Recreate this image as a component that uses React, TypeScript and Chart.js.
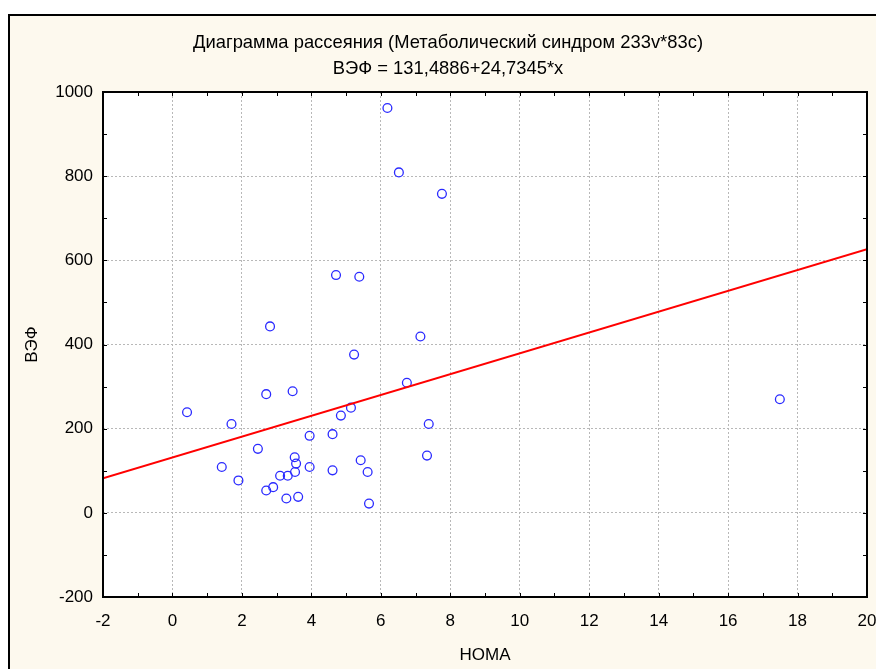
import React, { useEffect, useRef } from 'react';
import { Chart, registerables } from 'chart.js';

Chart.register(...registerables);

// ---- data ----
const HOMA = [0.42, 1.70, 2.70, 3.46, 1.42, 1.90, 2.46, 3.52, 3.56, 3.53, 3.32, 3.10, 2.90, 2.70, 3.28, 3.62, 3.95, 3.95, 4.61, 4.61, 4.85, 5.14, 5.42, 5.62, 5.66, 6.75, 7.38, 7.33, 6.19, 6.52, 7.76, 4.71, 5.38, 2.81, 7.14, 5.23, 17.49];
const VEF = [239, 211, 282, 289, 109, 77, 152, 132, 117, 97, 88, 88, 61, 53, 34, 38, 183, 109, 187, 101, 231, 250, 125, 97, 22, 309, 211, 136, 962, 809, 758, 565, 561, 443, 419, 376, 270];
const FIT_X = [-2, 20];
const FIT_Y = [82.0, 626.2];
const X_TICKS = [-2, 0, 2, 4, 6, 8, 10, 12, 14, 16, 18, 20];
const Y_TICKS = [-200, 0, 200, 400, 600, 800, 1000];
const TITLE_LINES = ['Диаграмма рассеяния (Метаболический синдром 233v*83c)', 'ВЭФ = 131,4886+24,7345*x'];
const X_LABEL = 'HOMA';
const Y_LABEL = 'ВЭФ';

const FONT_FAMILY = "'Liberation Sans', Arial, sans-serif";
const CREAM = '#fdf9ee';

const framePlugin = {
  id: 'framePlugin',
  beforeDraw(chart: any) {
    const { ctx, chartArea: a, width, height } = chart;
    ctx.save();
    ctx.fillStyle = '#ffffff';
    ctx.fillRect(0, 0, width, height);
    ctx.fillStyle = CREAM;
    ctx.fillRect(9, 15, width, height);
    ctx.fillStyle = '#ffffff';
    ctx.fillRect(a.left, a.top, a.right - a.left, a.bottom - a.top);
    ctx.restore();
  },
  afterDraw(chart: any) {
    const { ctx, chartArea: a, scales } = chart;
    ctx.save();
    ctx.strokeStyle = '#000';
    ctx.lineWidth = 2;
    ctx.strokeRect(9, 15, 1000, 1000);
    ctx.strokeRect(a.left, a.top, a.right - a.left, a.bottom - a.top);
    ctx.lineWidth = 1;
    const xs = scales.x;
    const ys = scales.y;
    for (let v = xs.min; v <= xs.max + 1e-9; v += 1) {
      const px = Math.round(xs.getPixelForValue(v)) + 0.5;
      ctx.beginPath();
      ctx.moveTo(px, a.bottom);
      ctx.lineTo(px, a.bottom - 4);
      ctx.moveTo(px, a.top);
      ctx.lineTo(px, a.top + 4);
      ctx.stroke();
    }
    for (let v = ys.min; v <= ys.max + 1e-9; v += 100) {
      const py = Math.round(ys.getPixelForValue(v)) + 0.5;
      ctx.beginPath();
      ctx.moveTo(a.left, py);
      ctx.lineTo(a.left + 4, py);
      ctx.moveTo(a.right, py);
      ctx.lineTo(a.right - 4, py);
      ctx.stroke();
    }
    // titles: slightly condensed, as in the reference
    ctx.fillStyle = '#000';
    ctx.textAlign = 'center';
    ctx.textBaseline = 'middle';
    ctx.font = `19px ${FONT_FAMILY}`;
    const w0 = ctx.measureText(TITLE_LINES[0]).width;
    const sx = w0 > 0 ? Math.min(1, 510 / w0) : 1;
    ctx.save();
    ctx.translate(448, 0);
    ctx.scale(sx, 1);
    ctx.fillText(TITLE_LINES[0], 0, 43);
    ctx.fillText(TITLE_LINES[1], 0, 69);
    ctx.restore();
    ctx.restore();
  },
};

export default function App() {
  const ref = useRef<HTMLCanvasElement | null>(null);

  useEffect(() => {
    if (!ref.current) return;
    const points = HOMA.map((x, i) => ({ x, y: VEF[i] }));
    const fit = FIT_X.map((x, i) => ({ x, y: FIT_Y[i] }));
    const chart = new Chart(ref.current, {
      type: 'scatter',
      data: {
        datasets: [
          {
            type: 'scatter',
            label: 'points',
            data: points,
            pointStyle: 'circle',
            pointRadius: 4.4,
            pointBorderWidth: 1.3,
            borderColor: '#2a2aff',
            backgroundColor: 'rgba(0,0,0,0)',
            order: 2,
          } as any,
          {
            type: 'line',
            label: 'fit',
            data: fit,
            borderColor: '#ff0000',
            borderWidth: 2,
            pointRadius: 0,
            fill: false,
            order: 1,
          } as any,
        ],
      },
      options: {
        animation: false,
        responsive: false,
        maintainAspectRatio: false,
        layout: { padding: { top: 92, right: 9, left: 0, bottom: 0 } },
        plugins: {
          legend: { display: false },
          tooltip: { enabled: false },
          title: { display: false },
        },
        scales: {
          x: {
            type: 'linear',
            min: -2,
            max: 20,
            afterBuildTicks: (s: any) => {
              s.ticks = X_TICKS.map((v) => ({ value: v }));
            },
            afterFit: (s: any) => {
              s.height = 72;
              s.paddingLeft = 0;
              s.paddingRight = 0;
            },
            ticks: {
              color: '#000',
              padding: 14,
              autoSkip: false,
              maxRotation: 0,
              callback: (v: any) => String(v),
              font: { family: FONT_FAMILY, size: 17 },
            },
            grid: { color: '#b8b8b8', lineWidth: 1, drawTicks: false },
            border: { display: false, dash: [2, 2] },
            title: {
              display: true,
              text: X_LABEL,
              color: '#000',
              font: { family: FONT_FAMILY, size: 17 },
              padding: { top: 0, bottom: 3 },
            },
          },
          y: {
            type: 'linear',
            min: -200,
            max: 1000,
            afterBuildTicks: (s: any) => {
              s.ticks = Y_TICKS.map((v) => ({ value: v }));
            },
            afterFit: (s: any) => {
              s.width = 103;
              s.paddingTop = 0;
              s.paddingBottom = 0;
            },
            ticks: {
              color: '#000',
              padding: 10,
              autoSkip: false,
              callback: (v: any) => String(v),
              font: { family: FONT_FAMILY, size: 17 },
            },
            grid: { color: '#b8b8b8', lineWidth: 1, drawTicks: false },
            border: { display: false, dash: [2, 2] },
            title: {
              display: true,
              text: Y_LABEL,
              color: '#000',
              font: { family: FONT_FAMILY, size: 17 },
              padding: { top: 22, bottom: 0 },
            },
          },
        },
      },
      plugins: [framePlugin],
    });
    return () => chart.destroy();
  }, []);

  return (
    <div style={{ position: 'absolute', left: 0, top: 0, width: 876, height: 669 }}>
      <canvas ref={ref} width={876} height={669} style={{ display: 'block' }} />
    </div>
  );
}
